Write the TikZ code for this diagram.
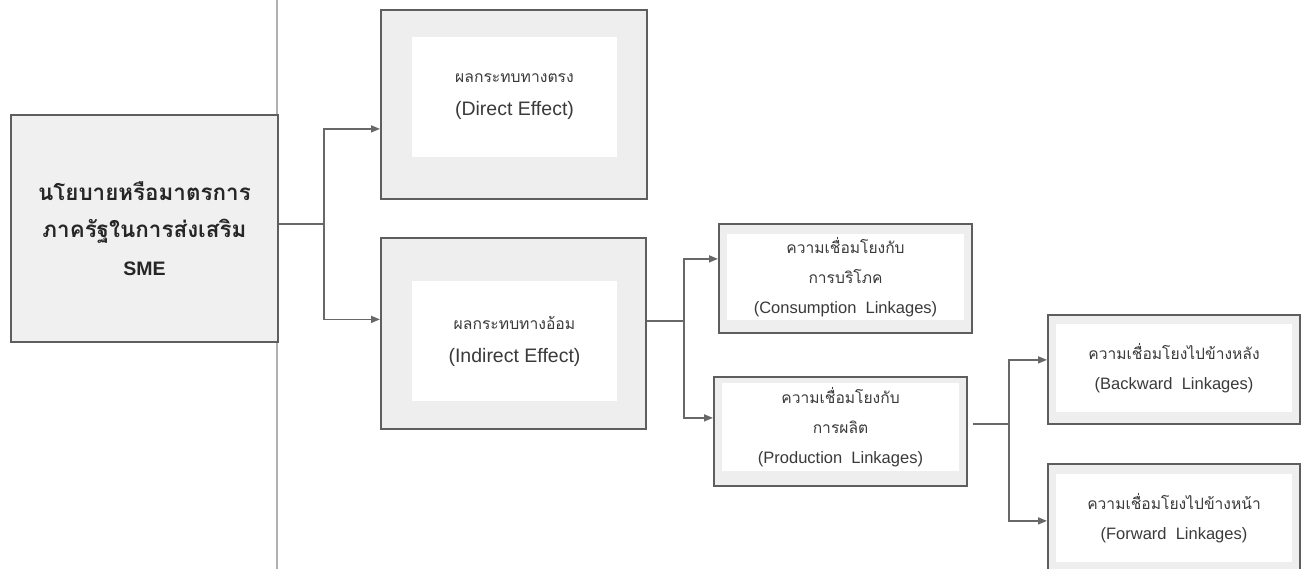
\documentclass[tikz,border=0pt]{standalone}
\usepackage{fontspec}
\setmainfont{Liberation Sans}
\newfontfamily\thai[Script=Thai]{Loma}
\usetikzlibrary{arrows.meta}
\definecolor{boxgray}{HTML}{EEEEEE}
\definecolor{edgegray}{HTML}{5E5E5E}
\definecolor{linegray}{HTML}{686868}
\definecolor{divgray}{HTML}{B0B0B0}
\definecolor{txt}{HTML}{3A3A3A}
\newcommand{\bigthai}[1]{{\fontsize{15.7}{33}\selectfont\thai #1}}
\newcommand{\smallthai}[1]{{\fontsize{15.6}{30}\selectfont\thai #1}}
\newcommand{\polthai}[1]{{\fontsize{22.4}{37.5}\selectfont\thai\bfseries #1}}
\begin{document}
\begin{tikzpicture}[x=1pt,y=-1pt,
  outerbox/.style={draw=edgegray, line width=1.8pt, fill=boxgray, anchor=north west, inner sep=0pt},
  innerbox/.style={fill=white, inner sep=0pt, align=center, text=txt},
  bigtext/.style={font={\fontsize{19.5}{33}\selectfont}},
  smalltext/.style={font={\fontsize{16.5}{30}\selectfont}},
  conn/.style={draw=linegray, line width=1.6pt},
  arr/.style={conn, -{Triangle[length=9pt,width=7pt]}}]
\useasboundingbox (0,0) rectangle (1302,569);
\clip (0,0) rectangle (1302,569);
% divider
\coordinate (dtop) at (277,0);
\coordinate (dbot) at (277,569);
\draw[divgray, line width=1.5pt] (dtop) -- (dbot);
% boxes
\node[outerbox, fill=boxgray!90!white, minimum width=267pt, minimum height=227pt,
      align=center, font={\fontsize{19.5}{37.5}\selectfont\bfseries}, text=black!85] (policy) at (10,114)
  {\polthai{นโยบายหรือมาตรการ}\\\polthai{ภาครัฐในการส่งเสริม}\\SME};
\node[outerbox, minimum width=266pt, minimum height=189pt] (direct) at (380,9) {};
\node[innerbox, bigtext, minimum width=205pt, minimum height=120pt] (directin) at (514.5,97)
  {\bigthai{ผลกระทบทางตรง}\\(Direct Effect)};
\node[outerbox, minimum width=265pt, minimum height=191pt] (indirect) at (380,237) {};
\node[innerbox, bigtext, minimum width=205pt, minimum height=120pt] (indirectin) at (514.5,341)
  {\bigthai{ผลกระทบทางอ้อม}\\(Indirect Effect)};
\node[outerbox, minimum width=253pt, minimum height=109pt] (cons) at (718,223) {};
\node[innerbox, smalltext, minimum width=237pt, minimum height=86pt] (consin) at (845.5,277)
  {\smallthai{ความเชื่อมโยงกับ}\\\smallthai{การบริโภค}\\(Consumption\ \ Linkages)};
\node[outerbox, minimum width=253pt, minimum height=109pt] (prod) at (713,376) {};
\node[innerbox, smalltext, minimum width=237pt, minimum height=88pt] (prodin) at (840.5,427)
  {\smallthai{ความเชื่อมโยงกับ}\\\smallthai{การผลิต}\\(Production\ \ Linkages)};
\node[outerbox, minimum width=252pt, minimum height=109pt] (back) at (1047,314) {};
\node[innerbox, smalltext, minimum width=236pt, minimum height=88pt] (backin) at (1174,368)
  {\smallthai{ความเชื่อมโยงไปข้างหลัง}\\(Backward\ \ Linkages)};
\node[outerbox, minimum width=252pt, minimum height=110pt] (fwd) at (1047,463) {};
\node[innerbox, smalltext, minimum width=236pt, minimum height=88pt] (fwdin) at (1174,518)
  {\smallthai{ความเชื่อมโยงไปข้างหน้า}\\(Forward\ \ Linkages)};
% connectors
\draw[conn] ([yshift=4.5pt]policy.east) -- ++(45,0) coordinate (j1);
\draw[arr] (j1) |- ([yshift=-24.5pt]direct.west);
\draw[arr] (j1) |- ([yshift=14pt]indirect.west);
\draw[conn] ([yshift=12.5pt]indirect.east) -- ++(37,0) coordinate (j2);
\draw[arr] (j2) |- ([yshift=19.5pt]cons.west);
\draw[arr] (j2) |- ([yshift=13.5pt]prod.west);
\draw[conn] ([yshift=7.5pt,xshift=5pt]prod.east) -- ++(36,0) coordinate (j3);
\draw[arr] (j3) |- ([yshift=9.5pt]back.west);
\draw[arr] (j3) |- ([yshift=-2pt]fwd.west);
\end{tikzpicture}
\end{document}
